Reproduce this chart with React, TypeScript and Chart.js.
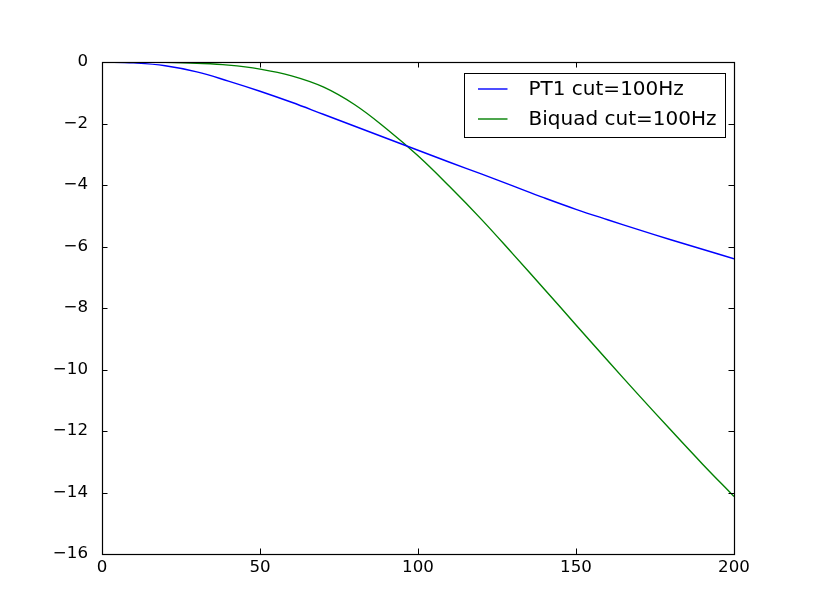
import React, { useEffect, useRef } from 'react';
import { Chart, registerables } from 'chart.js';

Chart.register(...registerables);

// frequency (Hz) and gain (dB)
const freqs = [0, 10, 20, 30, 40, 50, 60, 70, 80, 90, 100, 110, 120, 130, 140, 150, 160, 170, 180, 190, 200];
const pt1Gain = [0, -0.03, -0.12, -0.32, -0.62, -0.95, -1.31, -1.7, -2.09, -2.48, -2.87, -3.26, -3.64, -4.03, -4.42, -4.79, -5.13, -5.46, -5.78, -6.09, -6.4];
const biquadGain = [0, 0, -0.01, -0.04, -0.1, -0.23, -0.45, -0.81, -1.39, -2.17, -3.05, -4.05, -5.11, -6.24, -7.39, -8.55, -9.71, -10.85, -11.97, -13.07, -14.13];
const seriesLabels = ['PT1 cut=100Hz', 'Biquad cut=100Hz'];
const seriesColors = ['#0000ff', '#008000'];

const FONT = '"DejaVu Sans", sans-serif';

const fmtTick = (v: number | string) => {
  const n = Number(v);
  return n < 0 ? '\u2212' + Math.abs(n) : String(n);
};

// matplotlib-classic look: box frame, inward ticks on all sides, boxed legend
const mplPlugin = {
  id: 'mplFrame',
  afterDraw(chart: any) {
    const { ctx, chartArea: a, scales } = chart;
    const len = 5.5;
    ctx.save();
    ctx.strokeStyle = '#000';
    ctx.lineWidth = 1;
    ctx.beginPath();
    scales.x.ticks.forEach((t: any) => {
      const px = Math.round(scales.x.getPixelForValue(t.value)) + 0.5;
      ctx.moveTo(px, a.bottom);
      ctx.lineTo(px, a.bottom - len);
      ctx.moveTo(px, a.top);
      ctx.lineTo(px, a.top + len);
    });
    scales.y.ticks.forEach((t: any) => {
      const py = Math.round(scales.y.getPixelForValue(t.value)) + 0.5;
      ctx.moveTo(a.left, py);
      ctx.lineTo(a.left + len, py);
      ctx.moveTo(a.right, py);
      ctx.lineTo(a.right - len, py);
    });
    ctx.stroke();
    ctx.lineWidth = 1.2;
    ctx.strokeRect(a.left + 0.5, a.top + 0.5, a.right - a.left, a.bottom - a.top);

    // legend
    const boxW = 261;
    const boxH = 64;
    const bx = Math.round(a.right - 9 - boxW) + 0.5;
    const by = Math.round(a.top + 11) + 0.5;
    ctx.fillStyle = '#fff';
    ctx.fillRect(bx, by, boxW, boxH);
    ctx.lineWidth = 1;
    ctx.strokeRect(bx, by, boxW, boxH);
    ctx.font = `20px ${FONT}`;
    ctx.textBaseline = 'middle';
    chart.data.datasets.forEach((ds: any, i: number) => {
      const ry = by + 15.5 + i * 30;
      ctx.strokeStyle = ds.borderColor;
      ctx.lineWidth = 1.4;
      ctx.beginPath();
      ctx.moveTo(bx + 13.5, ry);
      ctx.lineTo(bx + 43, ry);
      ctx.stroke();
      ctx.fillStyle = '#000';
      ctx.fillText(ds.label, bx + 64, ry + 1);
    });
    ctx.restore();
  },
};

const App: React.FC = () => {
  const canvasRef = useRef<HTMLCanvasElement | null>(null);
  const chartRef = useRef<Chart | null>(null);

  useEffect(() => {
    const ctx = canvasRef.current?.getContext('2d');
    if (!ctx) return;
    if (chartRef.current) chartRef.current.destroy();

    const series = [pt1Gain, biquadGain];

    chartRef.current = new Chart(ctx, {
      type: 'line',
      data: {
        datasets: series.map((vals, i) => ({
          label: seriesLabels[i],
          data: freqs.map((f, j) => ({ x: f, y: vals[j] })),
          borderColor: seriesColors[i],
          backgroundColor: seriesColors[i],
          borderWidth: 1.4,
          pointRadius: 0,
          fill: false,
          tension: 0.4,
        })),
      },
      options: {
        responsive: false,
        animation: false,
        events: [],
        layout: { padding: { top: 62, right: 81, left: 0, bottom: 0 } },
        plugins: { legend: { display: false }, tooltip: { enabled: false } },
        scales: {
          x: {
            type: 'linear',
            min: 0,
            max: 200,
            grid: { display: false },
            border: { display: false },
            ticks: {
              stepSize: 50,
              color: '#000',
              padding: -4,
              maxRotation: 0,
              font: { family: FONT, size: 16.67 },
              callback: fmtTick,
            },
            afterFit: (scale: any) => {
              scale.height = 61;
            },
          },
          y: {
            type: 'linear',
            min: -16,
            max: 0,
            grid: { display: false },
            border: { display: false },
            ticks: {
              stepSize: 2,
              color: '#000',
              padding: 6,
              font: { family: FONT, size: 16.67 },
              callback: fmtTick,
            },
            afterFit: (scale: any) => {
              scale.width = 102;
            },
          },
        },
      },
      plugins: [mplPlugin],
    });

    return () => {
      if (chartRef.current) {
        chartRef.current.destroy();
        chartRef.current = null;
      }
    };
  }, []);

  return (
    <div style={{ position: 'absolute', left: 0, top: 0, width: 815, height: 615, background: '#fff' }}>
      <canvas ref={canvasRef} width={815} height={615} />
    </div>
  );
};

export default App;
